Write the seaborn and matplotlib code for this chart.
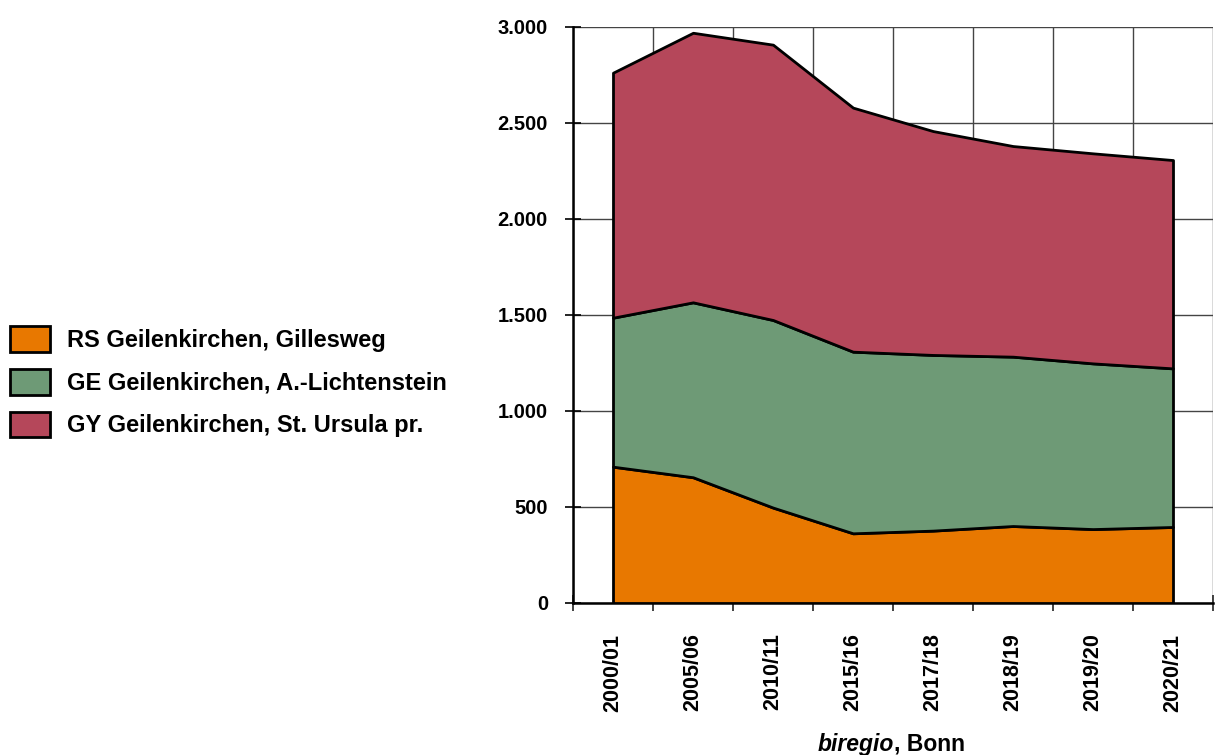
import numpy as np
import pandas as pd
import seaborn as sns
from matplotlib import pyplot as plt
from matplotlib.ticker import FixedLocator, FuncFormatter
from matplotlib.patches import Patch

# school years (x categories)
years = ["2000/01", "2005/06", "2010/11", "2015/16", "2017/18", "2018/19", "2019/20", "2020/21"]

# pupils per school
rs_gillesweg = [710, 655, 497, 363, 377, 401, 385, 396]
ge_lichtenstein = [776, 911, 977, 946, 915, 882, 863, 826]
gy_ursula = [1276, 1404, 1434, 1271, 1166, 1097, 1094, 1085]

series_names = ["RS Geilenkirchen, Gillesweg",
                "GE Geilenkirchen, A.-Lichtenstein",
                "GY Geilenkirchen, St. Ursula pr."]
series_colors = ["#E87800", "#6E9A76", "#B5475A"]

y_ticks = [0, 500, 1000, 1500, 2000, 2500, 3000]

df = pd.DataFrame({"year": years,
                   series_names[0]: rs_gillesweg,
                   series_names[1]: ge_lichtenstein,
                   series_names[2]: gy_ursula})

sns.set_theme(style="whitegrid")
plt.rcParams["font.family"] = ["Liberation Sans", "DejaVu Sans"]
plt.rcParams["font.weight"] = "bold"
plt.rcParams["text.color"] = "black"
plt.rcParams["xtick.color"] = "black"
plt.rcParams["ytick.color"] = "black"

fig = plt.figure(figsize=(12.16, 7.55), dpi=100)
ax = fig.add_axes([573 / 1216, 1 - 603 / 755, 640 / 1216, 576 / 755])

x = np.arange(len(years))
ax.stackplot(x, df[series_names[0]], df[series_names[1]], df[series_names[2]],
             colors=series_colors, edgecolor="black", linewidth=2, zorder=3)

# axes limits and grid
ax.set_xlim(-0.5, len(years) - 0.5)
ax.set_ylim(0, 3000)
ax.yaxis.set_major_locator(FixedLocator(y_ticks))
ax.yaxis.set_major_formatter(FuncFormatter(lambda v, p: f"{int(v):,}".replace(",", ".")))
ax.set_xticks(x)
ax.set_xticklabels(years, rotation=90, fontsize=15.5, fontweight="bold")
ax.xaxis.set_minor_locator(FixedLocator(np.arange(-0.5, len(years), 1.0)))

ax.grid(False)
ax.grid(True, axis="y", which="major", color="#444444", linewidth=1, zorder=0)
ax.grid(True, axis="x", which="minor", color="#444444", linewidth=1, zorder=0)

ax.tick_params(axis="x", which="major", length=0, pad=22)
ax.tick_params(axis="x", which="minor", direction="inout", length=12, width=1.2, color="#222222", bottom=True)
ax.tick_params(axis="y", which="major", direction="inout", length=12, width=1.2, color="black",
               pad=12, labelsize=14.5, left=True)
for lab in ax.get_yticklabels():
    lab.set_fontweight("bold")

for side in ["top", "right"]:
    ax.spines[side].set_visible(False)
for side in ["left", "bottom"]:
    ax.spines[side].set_color("black")
    ax.spines[side].set_linewidth(1.8)

# x label: italic "biregio" + ", Bonn"
fig.text(894 / 1216, 1 - 751 / 755, "biregio", ha="right", va="baseline",
         fontsize=16.5, fontweight="bold", fontstyle="italic")
fig.text(894 / 1216, 1 - 751 / 755, ", Bonn", ha="left", va="baseline",
         fontsize=16.5, fontweight="bold")

# legend on the left
handles = [Patch(facecolor=c, edgecolor="black", linewidth=2) for c in series_colors]
fig.legend(handles, series_names, loc="upper left",
           bbox_to_anchor=(10 / 1216, 1 - 326 / 755), bbox_transform=fig.transFigure,
           frameon=False, borderpad=0, borderaxespad=0,
           handlelength=1.7, handleheight=1.3, handletextpad=0.72, labelspacing=0.72,
           prop={"size": 17, "weight": "bold"})

plt.savefig("out.png", dpi=100)
plt.close()
